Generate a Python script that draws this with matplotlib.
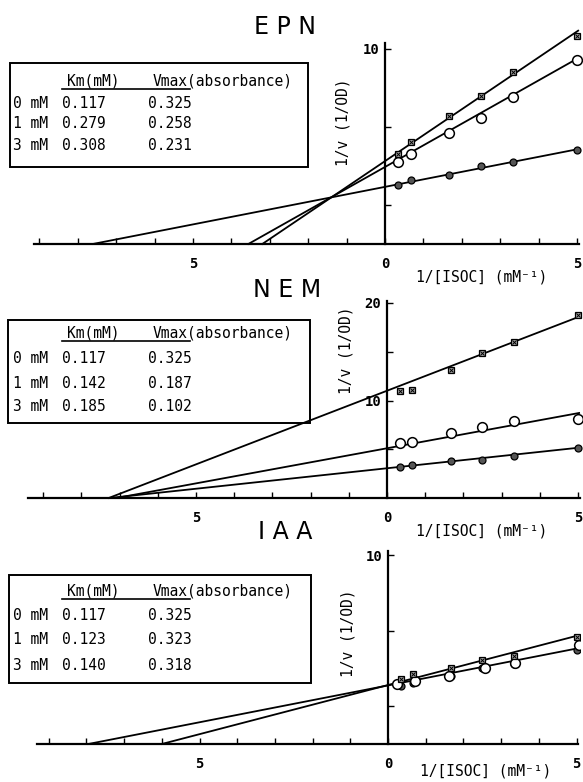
import matplotlib.pyplot as plt
from matplotlib.patches import Rectangle
from matplotlib.lines import Line2D

W, H = 583, 782

# 1/[ISOC] values (mM^-1)
inv_isoc = [0.333, 0.667, 1.667, 2.5, 3.333, 5.0]
iaa_open_x = [0.23, 0.72, 1.63, 2.58, 3.38, 5.06]

# 1/v values
epn_0mM = [3.03, 3.27, 3.55, 3.99, 4.23, 4.83]
epn_1mM = [4.22, 4.64, 5.67, 6.44, 7.52, 9.44]
epn_3mM = [4.61, 5.24, 6.54, 7.61, 8.81, 10.69]

nem_0mM = [3.21, 3.38, 3.79, 3.93, 4.31, 5.13]
nem_1mM = [5.61, 5.77, 6.67, 7.28, 7.90, 8.10]
nem_3mM = [10.94, 11.05, 13.16, 14.87, 16.03, 18.80]

iaa_0mM = [3.07, 3.24, 3.60, 4.00, 4.22, 4.97]
iaa_1mM = [3.16, 3.33, 3.60, 4.04, 4.27, 5.22]
iaa_3mM = [3.42, 3.69, 4.04, 4.44, 4.67, 5.68]

# fitted lines (slope, intercept)
epn_fit = [(0.385, 2.93), (1.11, 3.95), (1.33, 4.25)]
nem_fit = [(0.42, 3.05), (0.72, 5.10), (1.51, 11.0)]
iaa_fit = [(0.39, 3.10), (0.52, 3.12)]

# table contents
conc_labels = ["0 mM", "1 mM", "3 mM"]
epn_km = ["0.117", "0.279", "0.308"]
epn_vmax = ["0.325", "0.258", "0.231"]
nem_km = ["0.117", "0.142", "0.185"]
nem_vmax = ["0.325", "0.187", "0.102"]
iaa_km = ["0.117", "0.123", "0.140"]
iaa_vmax = ["0.325", "0.323", "0.318"]

MONO = "DejaVu Sans Mono"

fig = plt.figure(figsize=(W / 100, H / 100), dpi=100)


def fx(px):
    return px / W


def fy(py):
    return 1 - py / H


def make_axes(x0, y0, sx, sy, xlim, ylim):
    left = x0 + xlim[0] * sx
    top = y0 - ylim[1] * sy
    ax = fig.add_axes([fx(left), fy(top + (ylim[1] - ylim[0]) * sy),
                       (xlim[1] - xlim[0]) * sx / W, (ylim[1] - ylim[0]) * sy / H])
    ax.set_xlim(*xlim)
    ax.set_ylim(*ylim)
    ax.patch.set_alpha(0)
    for s in ["top", "right"]:
        ax.spines[s].set_visible(False)
    ax.spines["left"].set_position(("data", 0))
    ax.spines["bottom"].set_position(("data", 0))
    for s in ["left", "bottom"]:
        ax.spines[s].set_linewidth(1.6)
    ax.set_xticks([-5, 0, 5])
    ax.set_xticklabels(["5", "0", "5"], fontfamily=MONO, fontsize=10, fontweight="bold")
    ax.set_xticks(range(-9, 6), minor=True)
    ax.tick_params(axis="x", which="both", direction="in", length=4, width=1, pad=9)
    ax.tick_params(axis="y", which="both", direction="in", length=4, width=1, pad=4)
    return ax


def fit_line(ax, slope, icpt):
    x_start = -icpt / slope
    ax.plot([x_start, 5.03], [0, icpt + slope * 5.03], color="k", lw=1.3, zorder=2)


def markers(ax, x, y, kind):
    if kind == "filled":
        ax.plot(x, y, "o", ms=5, mfc="#555555", mec="k", mew=0.9, zorder=4)
    elif kind == "open":
        ax.plot(x, y, "o", ms=7, mfc="white", mec="k", mew=1.1, zorder=4)
    else:
        ax.plot(x, y, "s", ms=4.5, mfc="#aaaaaa", mec="k", mew=0.9, zorder=5)
        ax.plot(x, y, "x", ms=3, mec="k", mew=0.7, zorder=6)


def table(box, header_y, row_ys, km, vmax):
    l, r, t, b = box
    fig.add_artist(Rectangle((fx(l), fy(b)), (r - l) / W, (b - t) / H,
                             transform=fig.transFigure, fill=False, lw=1.4, ec="k"))
    fig.text(fx(67), fy(header_y), "Km(mM)", family=MONO, fontsize=10.5, va="center")
    fig.text(fx(153), fy(header_y), "Vmax(absorbance)", family=MONO, fontsize=10.5, va="center")
    fig.add_artist(Line2D([fx(62), fx(190)], [fy(header_y + 8)] * 2,
                          transform=fig.transFigure, color="k", lw=1.2))
    for yy, c, k, v in zip(row_ys, conc_labels, km, vmax):
        fig.text(fx(13), fy(yy), c, family=MONO, fontsize=10.5, va="center")
        fig.text(fx(62), fy(yy), k, family=MONO, fontsize=10.5, va="center")
        fig.text(fx(148), fy(yy), v, family=MONO, fontsize=10.5, va="center")


def labels(title_xy, ylab_xy, xlab_xy, title):
    fig.text(fx(title_xy[0]), fy(title_xy[1]), title, fontsize=17,
             ha="center", va="center")
    fig.text(fx(ylab_xy[0]), fy(ylab_xy[1]), "1/v (1/OD)", family=MONO,
             fontsize=10.5, rotation=90, ha="center", va="center")
    fig.text(fx(xlab_xy[0]), fy(xlab_xy[1]), "1/[ISOC] (mM\u207b\u00b9)", family=MONO,
             fontsize=10.5, ha="center", va="center")


# ---- EPN ----
ax1 = make_axes(385, 244, 38.4, 19.5, (-9.9, 5.15), (-0.5, 11.2))
ax1.spines["bottom"].set_bounds(-9.15, 5.05)
ax1.spines["left"].set_bounds(0, 10.3)
ax1.set_yticks([10])
ax1.set_yticklabels(["10"], fontfamily=MONO, fontsize=10, fontweight="bold")
ax1.set_yticks([2, 6], minor=True)
for (m, b) in epn_fit:
    fit_line(ax1, m, b)
markers(ax1, inv_isoc, epn_0mM, "filled")
markers(ax1, inv_isoc, epn_1mM, "open")
markers(ax1, inv_isoc, epn_3mM, "square")
table((10, 308, 63, 167), 81, [103, 124, 145], epn_km, epn_vmax)
labels((285, 27), (343, 122), (482, 277), "E P N")

# ---- NEM ----
ax2 = make_axes(387, 498, 38.2, 9.75, (-9.9, 5.1), (-0.8, 20.6))
ax2.spines["bottom"].set_bounds(-9.4, 5.05)
ax2.spines["left"].set_bounds(0, 20.2)
ax2.set_yticks([10, 20])
ax2.set_yticklabels(["10", "20"], fontfamily=MONO, fontsize=10, fontweight="bold")
ax2.set_yticks([5, 15], minor=True)
for (m, b) in nem_fit:
    fit_line(ax2, m, b)
markers(ax2, inv_isoc, nem_0mM, "filled")
markers(ax2, inv_isoc, nem_1mM, "open")
markers(ax2, inv_isoc, nem_3mM, "square")
table((8, 310, 320, 423), 333, [359, 383, 406], nem_km, nem_vmax)
labels((287, 290), (346, 350), (482, 531), "N E M")

# ---- IAA ----
ax3 = make_axes(388, 744, 37.7, 18.9, (-9.9, 5.1), (-0.5, 10.6))
ax3.spines["bottom"].set_bounds(-9.3, 5.05)
ax3.spines["left"].set_bounds(0, 10.2)
ax3.set_yticks([10])
ax3.set_yticklabels(["10"], fontfamily=MONO, fontsize=10, fontweight="bold")
ax3.set_yticks([2, 6], minor=True)
for (m, b) in iaa_fit:
    fit_line(ax3, m, b)
markers(ax3, inv_isoc, iaa_0mM, "filled")
markers(ax3, iaa_open_x, iaa_1mM, "open")
markers(ax3, inv_isoc, iaa_3mM, "square")
table((9, 311, 575, 683), 591, [616, 640, 665], iaa_km, iaa_vmax)
labels((285, 532), (348, 633), (486, 771), "I A A")

fig.savefig("out.png", dpi=100)
